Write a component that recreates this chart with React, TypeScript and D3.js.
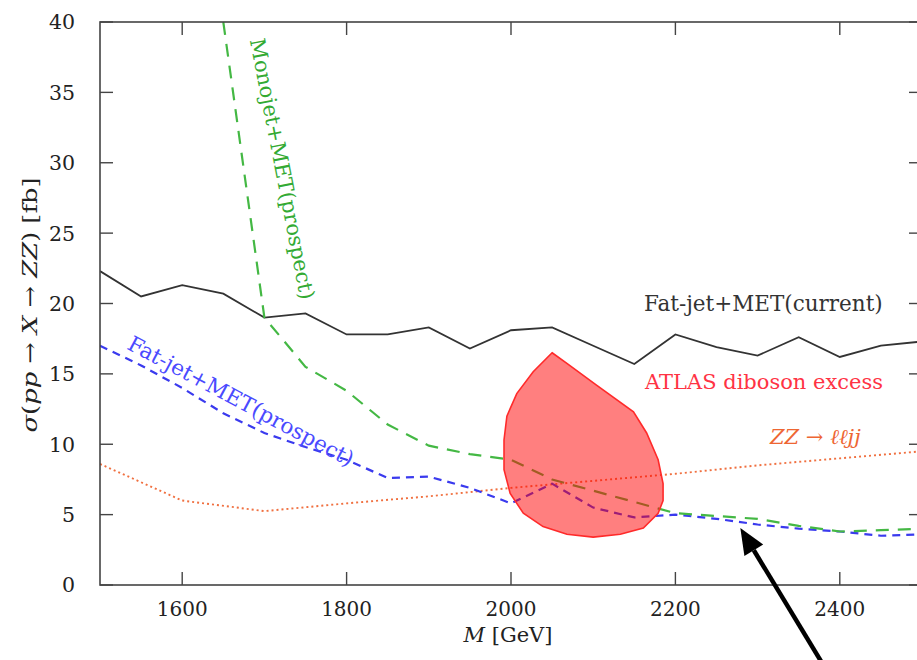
import React from "react";
import * as d3 from "d3";

// ---- data ----
const massGrid = [1500, 1550, 1600, 1650, 1700, 1750, 1800, 1850, 1900, 1950, 2000, 2050, 2100, 2150, 2200, 2250, 2300, 2350, 2400, 2450, 2500];
const fatJetCurrent = [22.3, 20.5, 21.3, 20.7, 19.0, 19.3, 17.8, 17.8, 18.3, 16.8, 18.1, 18.3, 17.0, 15.7, 17.8, 16.9, 16.3, 17.6, 16.2, 17.0, 17.3];
const fatJetProspect = [17.0, 15.6, 14.0, 12.2, 10.8, 9.8, 8.9, 7.6, 7.7, 6.9, 5.8, 7.2, 5.5, 4.8, 5.0, 4.7, 4.3, 4.0, 3.8, 3.5, 3.6];

const monojetMass = [1650, 1700, 1750, 1800, 1850, 1900, 1950, 2000, 2050, 2100, 2150, 2200, 2250, 2300, 2350, 2400, 2450, 2500];
const monojetProspect = [40.0, 19.0, 15.5, 13.8, 11.4, 9.9, 9.3, 8.9, 7.5, 6.7, 5.9, 5.1, 4.9, 4.7, 4.2, 3.8, 3.9, 4.0];

const zzMass = [1500, 1600, 1700, 1800, 1900, 2000, 2100, 2200, 2300, 2400, 2500];
const zzLljj = [8.6, 6.0, 5.25, 5.8, 6.3, 6.9, 7.4, 7.9, 8.5, 9.0, 9.5];

const atlasMass = [2050, 2068, 2104, 2149, 2165, 2179, 2185, 2185, 2179, 2161, 2133, 2100, 2068, 2039, 2015, 1999, 1991.5, 1991.5, 1995, 2007, 2027];
const atlasSigma = [16.5, 15.75, 14.2, 12.3, 10.8, 8.9, 7.2, 6.0, 5.1, 4.05, 3.6, 3.4, 3.6, 4.15, 5.1, 6.5, 8.2, 10.3, 12.0, 13.6, 15.15];

const xTicks = [1600, 1800, 2000, 2200, 2400];
const yTicks = [0, 5, 10, 15, 20, 25, 30, 35, 40];

// arrow annotation (data coords): tail -> tip
const arrowFrom = [2378, -5.5];
const arrowTo = [2279, 4.05];

const W = 917;
const H = 660;
const FONT = "'DejaVu Serif', 'Liberation Serif', serif";

export default function App() {
  const x = d3.scaleLinear().domain([1500, 2500]).range([100, 922]);
  const y = d3.scaleLinear().domain([0, 40]).range([585, 22]);
  const [x0, x1] = x.range();
  const [y0, y1] = y.range();

  const line = d3
    .line<[number, number]>()
    .x((d) => x(d[0]))
    .y((d) => y(d[1]));

  const area = d3
    .line<[number, number]>()
    .x((d) => x(d[0]))
    .y((d) => y(d[1]))
    .curve(d3.curveLinearClosed);

  const zip = (a: number[], b: number[]) => a.map((v, i) => [v, b[i]] as [number, number]);

  const tickLen = 13;

  // arrow geometry
  const ax0 = x(arrowFrom[0]), ay0 = y(arrowFrom[1]);
  const ax1 = x(arrowTo[0]), ay1 = y(arrowTo[1]);
  const dx = ax1 - ax0, dy = ay1 - ay0;
  const len = Math.hypot(dx, dy);
  const ux = dx / len, uy = dy / len;
  const headL = 26, headW = 11;
  const bx = ax1 - ux * headL, by = ay1 - uy * headL;
  const head = [
    [ax1, ay1],
    [bx - uy * headW, by + ux * headW],
    [bx + uy * headW, by - ux * headW],
  ];

  return (
    <svg width={W} height={H} style={{ position: "absolute", left: 0, top: 0, background: "#fff" }} fontFamily={FONT}>
      <defs>
        <clipPath id="plot">
          <rect x={x0} y={y1} width={x1 - x0} height={y0 - y1} />
        </clipPath>
      </defs>
      <rect x={0} y={0} width={W} height={H} fill="#fff" />

      <g clipPath="url(#plot)">
        <path d={line(zip(zzMass, zzLljj)) || ""} fill="none" stroke="#f07040" strokeWidth={1.9} strokeDasharray="2,3" />
        <path d={line(zip(massGrid, fatJetCurrent)) || ""} fill="none" stroke="#333" strokeWidth={1.8} />
        <path d={line(zip(massGrid, fatJetProspect)) || ""} fill="none" stroke="#3a3aee" strokeWidth={2.2} strokeDasharray="8,6" />
        <path d={line(zip(monojetMass, monojetProspect)) || ""} fill="none" stroke="#44b844" strokeWidth={2.2} strokeDasharray="13,9" />
        <path
          d={area(zip(atlasMass, atlasSigma)) || ""}
          fill="#ff0000"
          fillOpacity={0.5}
          stroke="#ff2a2a"
          strokeWidth={1.6}
        />
      </g>

      {/* frame */}
      <rect x={x0} y={y1} width={x1 - x0} height={y0 - y1} fill="none" stroke="#444" strokeWidth={1.6} />

      {/* x ticks */}
      {xTicks.map((t) => (
        <g key={"x" + t}>
          <line x1={x(t)} x2={x(t)} y1={y0} y2={y0 - tickLen} stroke="#444" strokeWidth={1.4} />
          <line x1={x(t)} x2={x(t)} y1={y1} y2={y1 + tickLen} stroke="#444" strokeWidth={1.4} />
          <text x={x(t)} y={616} textAnchor="middle" fontSize={20} fill="#222">
            {t}
          </text>
        </g>
      ))}

      {/* y ticks */}
      {yTicks.map((t) => (
        <g key={"y" + t}>
          <line x1={x0} x2={x0 + tickLen} y1={y(t)} y2={y(t)} stroke="#444" strokeWidth={1.4} />
          <line x1={x1} x2={x1 - tickLen} y1={y(t)} y2={y(t)} stroke="#444" strokeWidth={1.4} />
          <text x={75} y={y(t)} dy="0.36em" textAnchor="end" fontSize={20.5} fill="#222">
            {t}
          </text>
        </g>
      ))}

      {/* axis titles */}
      <text x={508} y={642} textAnchor="middle" fontSize={21} fill="#222">
        <tspan fontStyle="italic">M</tspan> [GeV]
      </text>
      <text
        transform="translate(37,305) rotate(-90)"
        textAnchor="middle"
        fontSize={21}
        fill="#222"
        textLength={255}
        lengthAdjust="spacingAndGlyphs"
      >
        <tspan fontStyle="italic">σ</tspan>(<tspan fontStyle="italic">pp</tspan> → <tspan fontStyle="italic">X</tspan> →{" "}
        <tspan fontStyle="italic">ZZ</tspan>) [fb]
      </text>

      {/* annotations */}
      <text x={644} y={311} fontSize={21.5} fill="#333">
        Fat-jet+MET(current)
      </text>
      <text x={645} y={389} fontSize={21} fill="#ff3344">
        ATLAS diboson excess
      </text>
      <text x={770} y={444} fontSize={21} fill="#ee6633" fontStyle="italic">
        ZZ → ℓℓjj
      </text>
      <text
        transform="translate(241,401) rotate(28)"
        textAnchor="middle"
        dominantBaseline="central"
        fontSize={21.5}
        fill="#4a4aff"
      >
        Fat-jet+MET(prospect)
      </text>
      <text
        transform="translate(282,169) rotate(79)"
        textAnchor="middle"
        dominantBaseline="central"
        fontSize={21}
        fill="#33aa33"
      >
        Monojet+MET(prospect)
      </text>

      {/* arrow */}
      <line x1={ax0} y1={ay0} x2={bx} y2={by} stroke="#000" strokeWidth={4.5} />
      <polygon points={head.map((p) => p.join(",")).join(" ")} fill="#000" />
    </svg>
  );
}
